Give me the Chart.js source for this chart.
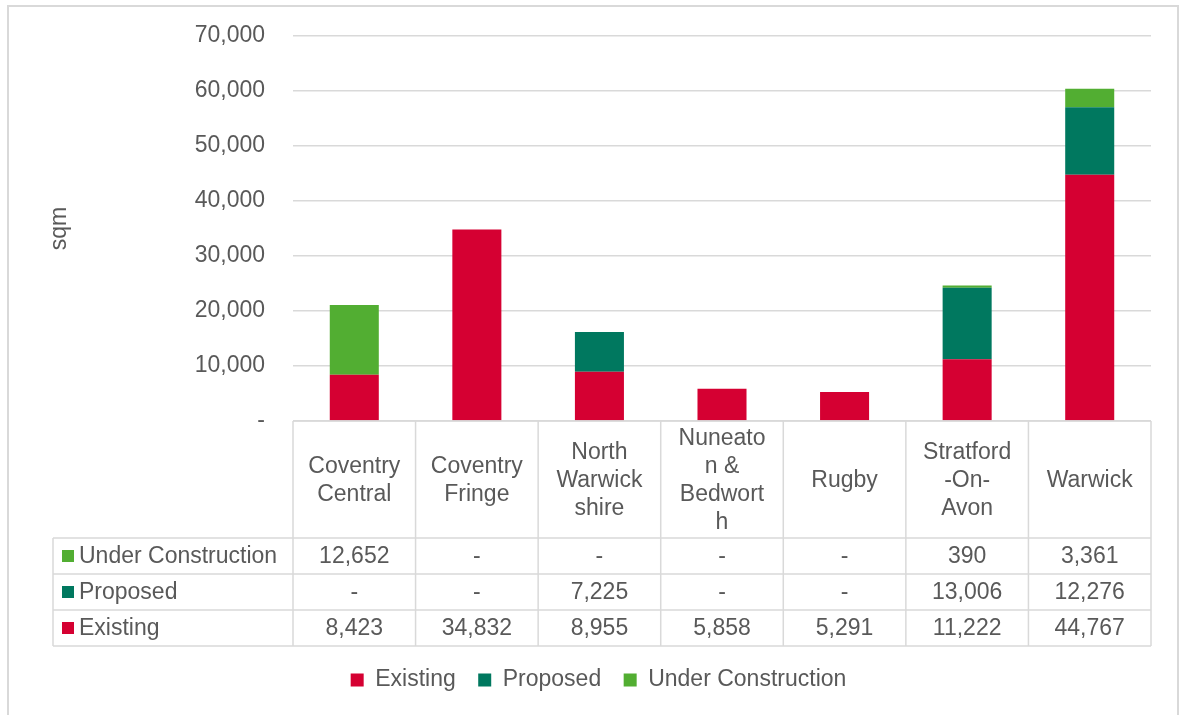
<!DOCTYPE html>
<html><head><meta charset="utf-8">
<script src="https://cdn.jsdelivr.net/npm/chart.js@4/dist/chart.umd.min.js"></script>
<style>
html,body{margin:0;padding:0;background:#fff;}
#wrap{position:relative;width:1181px;height:715px;overflow:hidden;background:#fff;}
#frame{position:absolute;left:7px;top:5px;width:1172px;height:730px;border:2px solid #d9d9d9;box-sizing:border-box;}
canvas{position:absolute;left:0;top:0;}
</style></head><body>
<div id="wrap"><div id="frame"></div><canvas id="c" width="1181" height="715"></canvas></div>
<script>
const categories = [
  ["Coventry","Central"],
  ["Coventry","Fringe"],
  ["North","Warwick","shire"],
  ["Nuneato","n &","Bedwort","h"],
  ["Rugby"],
  ["Stratford","-On-","Avon"],
  ["Warwick"]
];
const seriesNames = ["Existing", "Proposed", "Under Construction"];
const existing = [8423, 34832, 8955, 5858, 5291, 11222, 44767];
const proposed = [0, 0, 7225, 0, 0, 13006, 12276];
const underConstruction = [12652, 0, 0, 0, 0, 390, 3361];
const seriesColors = ["#D50032", "#00785F", "#52AE32"];
const yMin = 0, yMax = 70000, yStep = 10000;
const yTitle = "sqm";

const FONT = '"Liberation Sans", Arial, sans-serif';
const TEXT = '#595959';
const GRID = '#d9d9d9';

function fmt(v){ return v === 0 ? '-' : v.toLocaleString('en-US'); }

const tablePlugin = {
  id: 'dataTable',
  afterDraw(chart){
    const ctx = chart.ctx, area = chart.chartArea, xs = chart.scales.x;
    const n = categories.length;
    const colW = (area.right - area.left) / n;
    const top = area.bottom, headerH = 117, rowH = 36, tableLeft = 53;
    const rowsTop = top + headerH, bottom = rowsTop + 3 * rowH;
    const ds = chart.data.datasets.slice().reverse();
    ctx.save();
    ctx.strokeStyle = GRID; ctx.lineWidth = 1.5;
    const line = (x1,y1,x2,y2)=>{ctx.beginPath();ctx.moveTo(x1,y1);ctx.lineTo(x2,y2);ctx.stroke();};
    line(area.left, top, area.right, top);
    for (let r = 0; r <= 3; r++) line(tableLeft, rowsTop + r*rowH, area.right, rowsTop + r*rowH);
    for (let i = 0; i <= n; i++) { const x = area.left + i*colW; line(x, top, x, bottom); }
    line(tableLeft, rowsTop, tableLeft, bottom);
    ctx.font = '23px ' + FONT; ctx.fillStyle = TEXT;
    ctx.textAlign = 'center'; ctx.textBaseline = 'middle';
    const lh = 28;
    for (let i = 0; i < n; i++) {
      const cx = xs.getPixelForValue(i);
      const lines = categories[i];
      const y0 = top + headerH/2 - (lines.length - 1) * lh / 2 + 1;
      lines.forEach((t, k) => ctx.fillText(t, cx, y0 + k*lh));
      ds.forEach((d, r) => ctx.fillText(fmt(d.data[i]), cx, rowsTop + r*rowH + rowH/2 + 1));
    }
    ctx.textAlign = 'left';
    ds.forEach((d, r) => {
      const cy = rowsTop + r*rowH + rowH/2;
      ctx.fillStyle = d.backgroundColor;
      ctx.fillRect(62, cy - 6, 12, 12);
      ctx.fillStyle = TEXT;
      ctx.fillText(d.label, 79, cy + 1);
    });
    ctx.restore();
  }
};

new Chart(document.getElementById('c'), {
  type: 'bar',
  data: {
    labels: categories,
    datasets: [
      { label: seriesNames[0], data: existing, backgroundColor: seriesColors[0] },
      { label: seriesNames[1], data: proposed, backgroundColor: seriesColors[1] },
      { label: seriesNames[2], data: underConstruction, backgroundColor: seriesColors[2] }
    ]
  },
  options: {
    responsive: false,
    animation: false,
    layout: { padding: { left: 46, right: 30, top: 36, bottom: 13.5 } },
    datasets: { bar: { barPercentage: 0.4, categoryPercentage: 1, borderWidth: 0 } },
    plugins: {
      legend: {
        position: 'bottom',
        labels: { font: { family: FONT, size: 23 }, color: TEXT, boxWidth: 13, boxHeight: 13, padding: 22.5 }
      },
      tooltip: { enabled: false }
    },
    scales: {
      x: {
        stacked: true,
        grid: { display: false, drawTicks: false },
        border: { display: false },
        ticks: { display: false },
        afterFit(s){ s.height = 225; }
      },
      y: {
        stacked: true,
        min: yMin, max: yMax,
        grid: { color: GRID, lineWidth: 1.5, drawTicks: false },
        border: { display: false },
        ticks: { stepSize: yStep, padding: 28, color: TEXT, font: { family: FONT, size: 23, lineHeight: 0.6 }, callback: v => fmt(v) },
        title: { display: true, text: yTitle, color: TEXT, font: { family: FONT, size: 23 }, padding: { top: 0, bottom: 0 } },
        afterFit(s){ s.width = 247; }
      }
    }
  },
  plugins: [tablePlugin]
});
</script>
</body></html>
